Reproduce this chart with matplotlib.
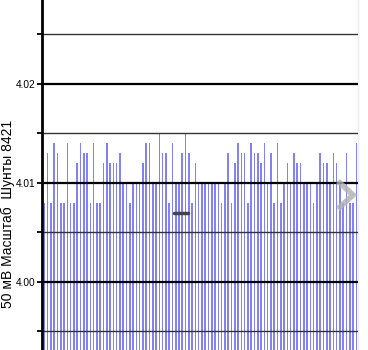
import numpy as np
import matplotlib.pyplot as plt
from matplotlib.lines import Line2D

plt.rcParams['font.family'] = ['Liberation Sans', 'DejaVu Sans']

# shunt readings, one bar per sample
readings = [
    4.008, 4.013, 4.008, 4.014, 4.013, 4.008, 4.008, 4.014, 4.008, 4.008,
    4.012, 4.014, 4.013, 4.013, 4.008, 4.014, 4.008, 4.008, 4.012, 4.014,
    4.012, 4.012, 4.012, 4.013, 4.010, 4.010, 4.008, 4.010, 4.010, 4.010,
    4.012, 4.014, 4.014, 4.010, 4.010, 4.015, 4.013, 4.013, 4.008, 4.014,
    4.010, 4.010, 4.013, 4.015, 4.013, 4.008, 4.012, 4.010, 4.010, 4.010,
    4.010, 4.010, 4.010, 4.010, 4.008, 4.010, 4.013, 4.008, 4.012, 4.014,
    4.013, 4.013, 4.008, 4.014, 4.013, 4.013, 4.012, 4.014, 4.010, 4.013,
    4.008, 4.014, 4.008, 4.010, 4.012, 4.010, 4.013, 4.012, 4.012, 4.010,
    4.010, 4.010, 4.008, 4.010, 4.013, 4.012, 4.012, 4.010, 4.013, 4.012,
    4.010, 4.008, 4.013, 4.008, 4.008, 4.014,
]
major_ticks = [4.00, 4.01, 4.02]
minor_ticks = [3.995, 4.005, 4.015, 4.025]
major_labels = ["4.00", "4.01", "4.02"]
ylabel = "50 мВ Масштаб  Шунты 8421"

W, H = 368, 350
fig = plt.figure(figsize=(W / 100, H / 100), dpi=100)
ax = fig.add_axes([42 / W, 0, 316 / W, 1])

idx = np.arange(len(readings))
ax.bar(idx, np.array(readings) - 3.9, bottom=3.9, width=0.48,
       color='#8282f5', linewidth=0, zorder=1)

ax.set_xlim(-0.73, 95.52)
ax.set_ylim(3.99313, 4.02848)

ax.set_yticks(major_ticks)
ax.set_yticklabels(major_labels, fontsize=7.3)
ax.set_yticks(minor_ticks, minor=True)
ax.tick_params(axis='y', which='both', direction='out', length=3.5,
               width=1.3, pad=1.5, colors='black')
ax.set_xticks([])

for y in major_ticks:
    ax.axhline(y, color='black', lw=1.6, zorder=3)
for y in minor_ticks:
    ax.axhline(y, color='#333333', lw=1.0, zorder=3)

for s in ['top', 'bottom']:
    ax.spines[s].set_visible(False)
ax.spines['right'].set_color('#eeeeee')
ax.spines['right'].set_linewidth(1)
ax.spines['left'].set_linewidth(2)
ax.spines['left'].set_zorder(4)

fig.text(8 / W, 1 - 214 / H, ylabel, rotation=90, ha='center', va='center',
         fontsize=10)

# overlay marks from the screenshot (cursor dash and scroll chevron)
fig.add_artist(Line2D([174 / W, 188 / W], [1 - 213 / H, 1 - 213 / H],
                      transform=fig.transFigure, color='#444444', lw=2.5,
                      solid_capstyle='round', zorder=5))
fig.add_artist(Line2D([340 / W, 353 / W, 340 / W],
                      [1 - 183 / H, 1 - 195 / H, 1 - 207 / H],
                      transform=fig.transFigure, color='#b0b0b0', lw=4,
                      alpha=0.8, solid_joinstyle='miter', zorder=5))

fig.savefig('out.png', dpi=100)
